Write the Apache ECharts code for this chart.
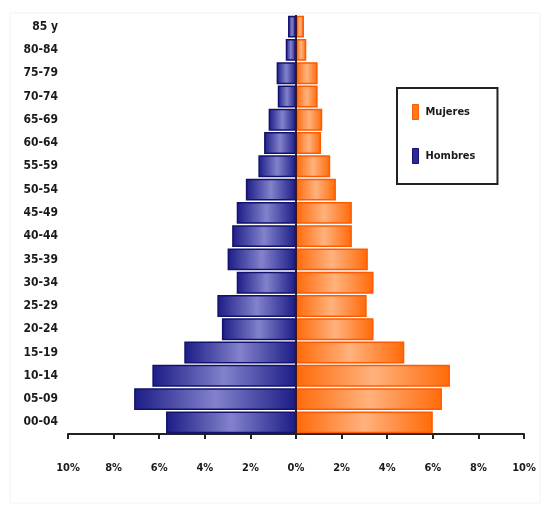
<!DOCTYPE html>
<html>
<head>
<meta charset="utf-8">
<script src="https://cdn.jsdelivr.net/npm/echarts@6/dist/echarts.min.js"></script>
<style>
  html, body { margin: 0; padding: 0; background: #fff; }
  #chart { width: 545px; height: 506px; }
</style>
</head>
<body>
<div id="chart"></div>
<script>
// Age groups, from youngest (bottom) to oldest (top)
const ageGroups = ['00-04', '05-09', '10-14', '15-19', '20-24', '25-29', '30-34', '35-39', '40-44',
  '45-49', '50-54', '55-59', '60-64', '65-69', '70-74', '75-79', '80-84', '85 y'];

// Share of total population, percent
const mujeres = [6.0, 6.4, 6.75, 4.75, 3.4, 3.1, 3.4, 3.15, 2.45, 2.45, 1.75, 1.5, 1.1, 1.15, 0.95, 0.95, 0.45, 0.35];
const hombres = [5.7, 7.1, 6.3, 4.9, 3.25, 3.45, 2.6, 3.0, 2.8, 2.6, 2.2, 1.65, 1.4, 1.2, 0.8, 0.85, 0.45, 0.35];

// Value axis ticks
const axisMin = -10;
const axisMax = 10;
const axisStep = 2;

const labelFont = "'Liberation Sans Narrow', 'DejaVu Sans Condensed', 'Liberation Sans', Arial, sans-serif";

function barFill(edge, mid) {
  return new echarts.graphic.LinearGradient(0, 0, 1, 0, [
    { offset: 0, color: edge },
    { offset: 0.5, color: mid },
    { offset: 1, color: edge }
  ]);
}

const chart = echarts.init(document.getElementById('chart'), null, { renderer: 'canvas' });

chart.setOption({
  backgroundColor: '#ffffff',
  animation: false,
  graphic: [{
    type: 'rect',
    shape: { x: 10, y: 13, width: 530, height: 490 },
    style: { fill: 'none', stroke: '#f2f2f2', lineWidth: 1 },
    silent: true
  }],
  grid: { left: 68, right: 21, top: 15, bottom: 72 },
  legend: {
    data: [
      { name: 'Mujeres', icon: 'rect', itemStyle: { color: '#ff7a1a', borderColor: '#ff5a00', borderWidth: 1 } },
      { name: 'Hombres', icon: 'rect', itemStyle: { color: '#2a2a9a', borderColor: '#12126e', borderWidth: 1 } }
    ],
    orient: 'vertical',
    left: 397,
    top: 88,
    padding: [16, 22, 20, 15],
    itemGap: 28,
    itemWidth: 6,
    itemHeight: 15,
    borderColor: '#222',
    borderWidth: 2,
    textStyle: { fontFamily: labelFont, fontSize: 11, fontWeight: 'bold', color: '#1a1a1a', padding: [0, 0, 0, 2] }
  },
  xAxis: {
    type: 'value',
    min: axisMin,
    max: axisMax,
    interval: axisStep,
    axisLine: { show: true, lineStyle: { color: '#222', width: 2 } },
    axisTick: { show: true, length: 5, lineStyle: { color: '#222', width: 2 } },
    splitLine: { show: false },
    axisLabel: {
      margin: 29,
      fontFamily: labelFont,
      fontSize: 11,
      fontWeight: 'bold',
      color: '#1a1a1a',
      formatter: v => Math.abs(v) + '%'
    }
  },
  yAxis: {
    type: 'category',
    data: ageGroups,
    axisLine: { show: false },
    axisTick: { show: false },
    axisLabel: {
      margin: 10,
      fontFamily: labelFont,
      fontSize: 12,
      fontWeight: 'bold',
      color: '#1a1a1a'
    }
  },
  series: [
    {
      name: 'Mujeres',
      type: 'bar',
      stack: 'pop',
      barCategoryGap: '6%',
      data: mujeres,
      itemStyle: {
        color: barFill('#ff6a08', '#ffb27e'),
        borderColor: '#ff5a00',
        borderWidth: 1.5
      },
      markLine: {
        silent: true,
        symbol: 'none',
        label: { show: false },
        lineStyle: { color: '#4a1410', width: 2, type: 'solid' },
        data: [{ xAxis: 0 }]
      }
    },
    {
      name: 'Hombres',
      type: 'bar',
      stack: 'pop',
      barCategoryGap: '6%',
      data: hombres.map(v => -v),
      itemStyle: {
        color: barFill('#1c1c86', '#8282cc'),
        borderColor: '#12126e',
        borderWidth: 1.5
      }
    }
  ]
});
</script>
</body>
</html>
